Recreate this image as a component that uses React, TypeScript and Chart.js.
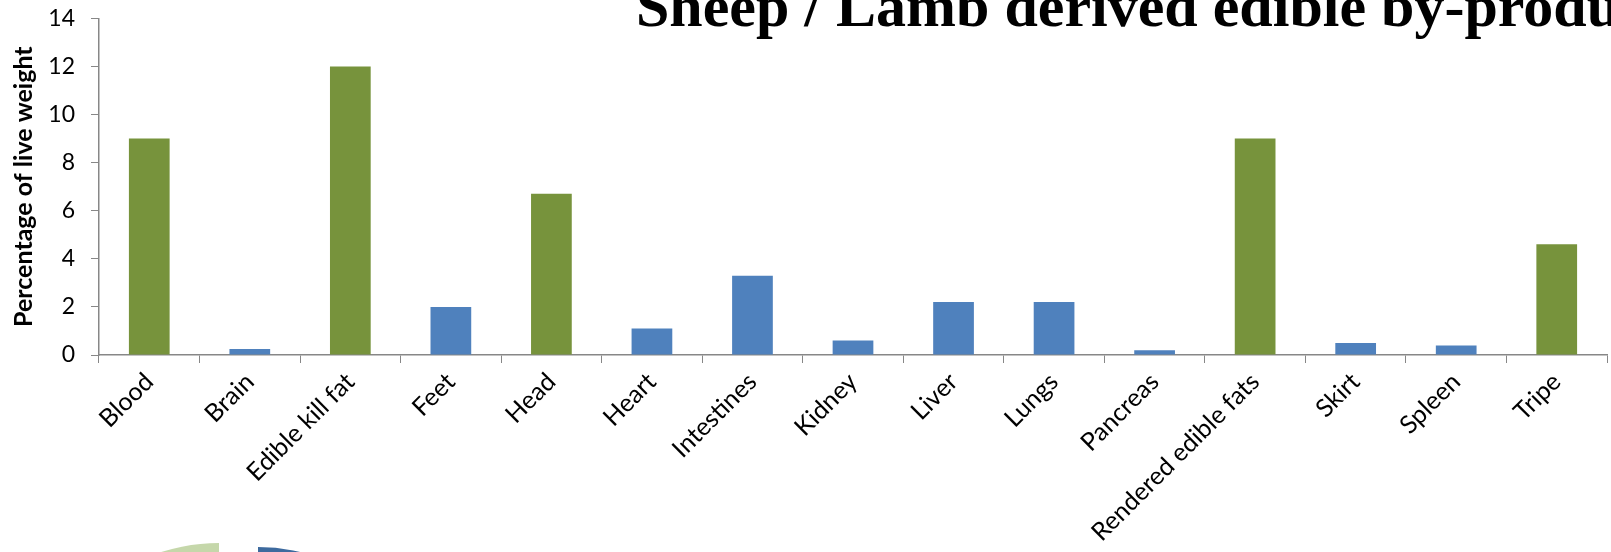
import React, { useEffect, useRef } from "react";
import { Chart, registerables } from "chart.js";

Chart.register(...registerables);

// Edible by-products, share of live weight (%)
const categories: string[] = [
  "Blood",
  "Brain",
  "Edible kill fat",
  "Feet",
  "Head",
  "Heart",
  "Intestines",
  "Kidney",
  "Liver",
  "Lungs",
  "Pancreas",
  "Rendered edible fats",
  "Skirt",
  "Spleen",
  "Tripe",
];

const values: number[] = [9, 0.25, 12, 2, 6.7, 1.1, 3.3, 0.6, 2.2, 2.2, 0.2, 9, 0.5, 0.4, 4.6];

// Major by-products are shown in green, the rest in blue
const isMajor: boolean[] = [
  true, false, true, false, true, false, false, false, false, false, false, true, false, false, true,
];

const yTicks: number[] = [0, 2, 4, 6, 8, 10, 12, 14];

const TITLE = "Sheep / Lamb derived edible by-products";
const Y_TITLE = "Percentage of live weight";

const GREEN = "#77933c";
const BLUE = "#4f81bd";
const AXIS = "#878787";
const FONT = "Lato, 'Open Sans', sans-serif";

const W = 1611;
const H = 552;

// Decorative emblem peeking in at the bottom-left corner
const emblemPlugin = {
  id: "emblem",
  afterDraw(chart: Chart) {
    const ctx = chart.ctx;
    ctx.save();
    ctx.fillStyle = "#c5d7aa";
    ctx.beginPath();
    ctx.moveTo(219, 733);
    ctx.arc(219, 733, 190, Math.PI, Math.PI * 1.5);
    ctx.closePath();
    ctx.fill();
    ctx.fillStyle = "#3d6a9e";
    ctx.beginPath();
    ctx.moveTo(258, 727);
    ctx.arc(258, 727, 180, Math.PI * 1.5, Math.PI * 2);
    ctx.closePath();
    ctx.fill();
    ctx.restore();
  },
};

export default function App() {
  const canvasRef = useRef<HTMLCanvasElement | null>(null);

  useEffect(() => {
    if (!canvasRef.current) return;
    const chart = new Chart(canvasRef.current, {
      type: "bar",
      data: {
        labels: categories,
        datasets: [
          {
            data: values,
            backgroundColor: isMajor.map((m) => (m ? GREEN : BLUE)),
            borderWidth: 0,
            categoryPercentage: 1,
            barPercentage: 0.405,
          },
        ],
      },
      options: {
        responsive: false,
        animation: false,
        layout: { padding: { top: 18.3, right: 4, left: 0, bottom: 0 } },
        plugins: {
          legend: { display: false },
          tooltip: { enabled: false },
          title: { display: false },
        },
        scales: {
          x: {
            offset: true,
            grid: {
              display: true,
              drawOnChartArea: false,
              drawTicks: true,
              tickLength: 8,
              color: AXIS,
              offset: true,
            },
            border: { display: true, color: AXIS, width: 1.5 },
            ticks: {
              autoSkip: false,
              maxRotation: 45,
              minRotation: 45,
              color: "#000",
              padding: 4,
              font: { family: FONT, size: 25 },
            },
            afterFit(scale: any) {
              scale.height = H - 355;
              scale.paddingLeft = 0;
              scale.paddingRight = 0;
            },
          },
          y: {
            min: 0,
            max: 14,
            afterBuildTicks(scale: any) {
              scale.ticks = yTicks.map((v) => ({ value: v }));
            },
            grid: {
              display: true,
              drawOnChartArea: false,
              drawTicks: true,
              tickLength: 8,
              color: AXIS,
            },
            border: { display: true, color: AXIS, width: 1.5 },
            ticks: {
              color: "#000",
              padding: 16,
              font: { family: FONT, size: 23 },
            },
            title: {
              display: true,
              text: Y_TITLE,
              color: "#000",
              padding: { top: 9, bottom: 0 },
              font: { family: FONT, size: 25, weight: "bold" },
            },
            afterFit(scale: any) {
              scale.width = 99;
              scale.paddingTop = 0;
              scale.paddingBottom = 0;
            },
          },
        },
      },
      plugins: [emblemPlugin],
    });
    return () => chart.destroy();
  }, []);

  return (
    <div
      style={{
        position: "fixed",
        left: 0,
        top: 0,
        width: W,
        height: H,
        overflow: "hidden",
        background: "#fff",
      }}
    >
      <canvas ref={canvasRef} width={W} height={H} style={{ display: "block" }} />
      <div
        style={{
          position: "absolute",
          left: 636,
          top: -24,
          whiteSpace: "nowrap",
          fontFamily: "'Liberation Serif', 'DejaVu Serif', serif",
          fontWeight: "bold",
          fontSize: 60,
          lineHeight: "60px",
          color: "#000",
        }}
      >
        {TITLE}
      </div>
    </div>
  );
}
